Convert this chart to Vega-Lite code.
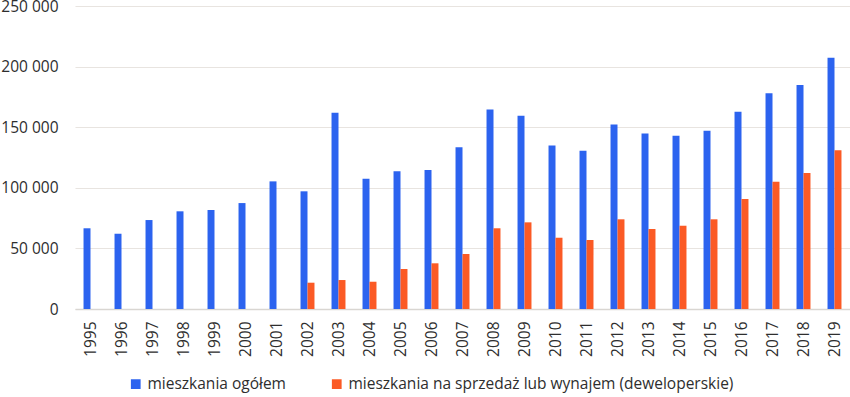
{
  "$schema": "https://vega.github.io/schema/vega-lite/v6.json",
  "autosize": "none",
  "width": 775,
  "height": 303,
  "padding": {"left": 75, "top": 6, "right": 0, "bottom": 88},
  "background": "white",
  "data": {
    "values": [
      {"year": "1995", "series": "mieszkania ogółem", "value": 66600},
      {"year": "1996", "series": "mieszkania ogółem", "value": 62100},
      {"year": "1997", "series": "mieszkania ogółem", "value": 73400},
      {"year": "1998", "series": "mieszkania ogółem", "value": 80600},
      {"year": "1999", "series": "mieszkania ogółem", "value": 81700},
      {"year": "2000", "series": "mieszkania ogółem", "value": 87400},
      {"year": "2001", "series": "mieszkania ogółem", "value": 105300},
      {"year": "2002", "series": "mieszkania ogółem", "value": 97100},
      {"year": "2003", "series": "mieszkania ogółem", "value": 162000},
      {"year": "2004", "series": "mieszkania ogółem", "value": 107500},
      {"year": "2005", "series": "mieszkania ogółem", "value": 113600},
      {"year": "2006", "series": "mieszkania ogółem", "value": 114700},
      {"year": "2007", "series": "mieszkania ogółem", "value": 133400},
      {"year": "2008", "series": "mieszkania ogółem", "value": 164700},
      {"year": "2009", "series": "mieszkania ogółem", "value": 159500},
      {"year": "2010", "series": "mieszkania ogółem", "value": 135000},
      {"year": "2011", "series": "mieszkania ogółem", "value": 130600},
      {"year": "2012", "series": "mieszkania ogółem", "value": 152300},
      {"year": "2013", "series": "mieszkania ogółem", "value": 144900},
      {"year": "2014", "series": "mieszkania ogółem", "value": 143000},
      {"year": "2015", "series": "mieszkania ogółem", "value": 147100},
      {"year": "2016", "series": "mieszkania ogółem", "value": 162800},
      {"year": "2017", "series": "mieszkania ogółem", "value": 178000},
      {"year": "2018", "series": "mieszkania ogółem", "value": 184800},
      {"year": "2019", "series": "mieszkania ogółem", "value": 207300},
      {"year": "2002", "series": "mieszkania na sprzedaż lub wynajem (deweloperskie)", "value": 21700},
      {"year": "2003", "series": "mieszkania na sprzedaż lub wynajem (deweloperskie)", "value": 23900},
      {"year": "2004", "series": "mieszkania na sprzedaż lub wynajem (deweloperskie)", "value": 22500},
      {"year": "2005", "series": "mieszkania na sprzedaż lub wynajem (deweloperskie)", "value": 33000},
      {"year": "2006", "series": "mieszkania na sprzedaż lub wynajem (deweloperskie)", "value": 37700},
      {"year": "2007", "series": "mieszkania na sprzedaż lub wynajem (deweloperskie)", "value": 45400},
      {"year": "2008", "series": "mieszkania na sprzedaż lub wynajem (deweloperskie)", "value": 66600},
      {"year": "2009", "series": "mieszkania na sprzedaż lub wynajem (deweloperskie)", "value": 71500},
      {"year": "2010", "series": "mieszkania na sprzedaż lub wynajem (deweloperskie)", "value": 58800},
      {"year": "2011", "series": "mieszkania na sprzedaż lub wynajem (deweloperskie)", "value": 56900},
      {"year": "2012", "series": "mieszkania na sprzedaż lub wynajem (deweloperskie)", "value": 74000},
      {"year": "2013", "series": "mieszkania na sprzedaż lub wynajem (deweloperskie)", "value": 66000},
      {"year": "2014", "series": "mieszkania na sprzedaż lub wynajem (deweloperskie)", "value": 68700},
      {"year": "2015", "series": "mieszkania na sprzedaż lub wynajem (deweloperskie)", "value": 74000},
      {"year": "2016", "series": "mieszkania na sprzedaż lub wynajem (deweloperskie)", "value": 90750},
      {"year": "2017", "series": "mieszkania na sprzedaż lub wynajem (deweloperskie)", "value": 105000},
      {"year": "2018", "series": "mieszkania na sprzedaż lub wynajem (deweloperskie)", "value": 112200},
      {"year": "2019", "series": "mieszkania na sprzedaż lub wynajem (deweloperskie)", "value": 130900}
    ]
  },
  "mark": {"type": "bar"},
  "encoding": {
    "x": {
      "field": "year",
      "type": "nominal",
      "scale": {"paddingInner": 0.55, "paddingOuter": 0.275},
      "axis": {
        "title": null,
        "labelAngle": -90,
        "labelFontSize": 15.5,
        "labelColor": "#2e2e2e",
        "labelPadding": 12,
        "ticks": false,
        "domainColor": "#d9d6d2",
        "domainWidth": 1.5,
        "grid": false
      }
    },
    "xOffset": {
      "field": "series",
      "type": "nominal",
      "scale": {
        "domain": ["mieszkania ogółem", "mieszkania na sprzedaż lub wynajem (deweloperskie)"],
        "paddingInner": 0,
        "paddingOuter": 0
      }
    },
    "y": {
      "field": "value",
      "type": "quantitative",
      "scale": {"domain": [0, 250000], "nice": false},
      "axis": {
        "title": null,
        "values": [0, 50000, 100000, 150000, 200000, 250000],
        "format": ",d",
        "domain": false,
        "ticks": false,
        "labelFontSize": 15.5,
        "labelColor": "#2e2e2e",
        "labelPadding": 17,
        "gridColor": "#e8e4e0",
        "gridWidth": 1.2
      }
    },
    "color": {
      "field": "series",
      "type": "nominal",
      "scale": {
        "domain": ["mieszkania ogółem", "mieszkania na sprzedaż lub wynajem (deweloperskie)"],
        "range": ["#2c63ef", "#fb5a25"]
      },
      "legend": {
        "title": null,
        "orient": "none",
        "direction": "horizontal",
        "legendX": 53,
        "legendY": 370,
        "symbolType": "square",
        "symbolSize": 95,
        "symbolStrokeWidth": 0,
        "symbolOpacity": 1,
        "labelFontSize": 15.5,
        "labelColor": "#2e2e2e",
        "labelOffset": 4,
        "columnPadding": 43,
        "labelLimit": 500
      }
    }
  },
  "config": {
    "font": "Open Sans",
    "view": {"stroke": null},
    "locale": {
      "number": {"decimal": ",", "thousands": " ", "grouping": [3], "currency": ["", " zł"]}
    }
  }
}
